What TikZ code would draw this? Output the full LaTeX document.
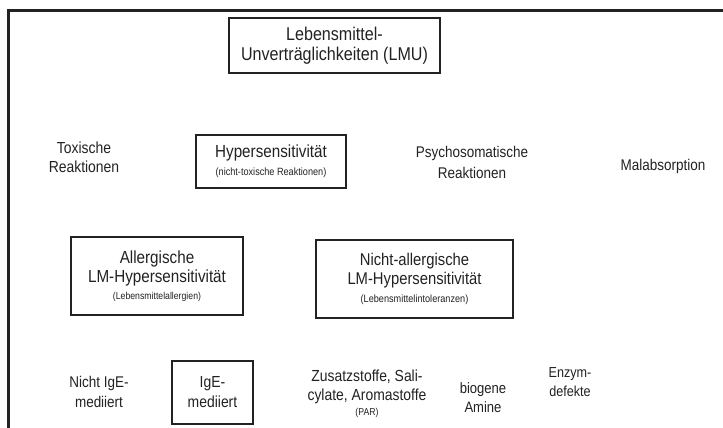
\documentclass[tikz,border=0pt]{standalone}
\usepackage{fontspec}
\setmainfont[FakeStretch=0.87]{Liberation Sans}
\definecolor{ink}{HTML}{222222}
\begin{document}
\begin{tikzpicture}[x=1pt,y=-1pt,
  box/.style={draw=ink, line width=2pt, inner sep=0pt, align=center, text=ink},
  lbl/.style={align=center, text=ink, inner sep=0pt}]
\useasboundingbox (0,0) rectangle (723,428);
\fill[white] (0,0) rectangle (723,428);
% frame
\coordinate (fbl) at (8,428);
\coordinate (ftl) at (8,11);
\coordinate (ftr) at (723,11);
\draw[ink, line width=3pt] (fbl) -- (ftl) -- (ftr);
% boxes
\node[box, line width=2.5pt, minimum width=211pt, minimum height=55pt, font=\fontsize{18.5}{20}\selectfont] (lmu) at (334.5,45.5)
  {Lebensmittel-\\Unverträglichkeiten (LMU)};
\node[box, minimum width=150pt, minimum height=53pt, font=\fontsize{17.5}{20}\selectfont] (hyp) at (271,161.5)
  {Hypersensitivität\\[-2pt]{\fontsize{10.5}{12}\selectfont (nicht-toxische Reaktionen)}};
\node[box, minimum width=172pt, minimum height=78pt, font=\fontsize{17.5}{19}\selectfont] (all) at (157,276)
  {Allergische\\LM-Hypersensitivität\\[-2pt]{\fontsize{10}{12}\selectfont (Lebensmittelallergien)}};
\node[box, minimum width=197pt, minimum height=78pt, font=\fontsize{17}{19}\selectfont] (nall) at (414.5,279)
  {Nicht-allergische\\LM-Hypersensitivität\\[-1pt]{\fontsize{10.5}{12}\selectfont (Lebensmittelintoleranzen)}};
\node[box, minimum width=81pt, minimum height=63pt, font=\fontsize{16}{20}\selectfont] (ige) at (212.5,392.5)
  {IgE-\\mediiert};
% plain labels
\node[lbl, font=\fontsize{16}{19}\selectfont] (tox) at (84,157.5) {Toxische\\Reaktionen};
\node[lbl, font=\fontsize{15.5}{21}\selectfont] (psy) at (472,162.5) {Psychosomatische\\Reaktionen};
\node[lbl, font=\fontsize{15.5}{19}\selectfont] (mal) at (663,166) {Malabsorption};
\node[lbl, font=\fontsize{15.5}{20}\selectfont] (nige) at (99,392) {Nicht IgE-\\mediiert};
\node[lbl, font=\fontsize{16}{19}\selectfont] (zus) at (367,394) {Zusatzstoffe, Sali-\\cylate, Aromastoffe\\[-4pt]{\fontsize{10}{12}\selectfont (PAR)}};
\node[lbl, font=\fontsize{15}{19}\selectfont] (bio) at (483,397.5) {biogene\\Amine};
\node[lbl, font=\fontsize{14.5}{19}\selectfont] (enz) at (570,382.5) {Enzym-\\defekte};
\end{tikzpicture}
\end{document}
